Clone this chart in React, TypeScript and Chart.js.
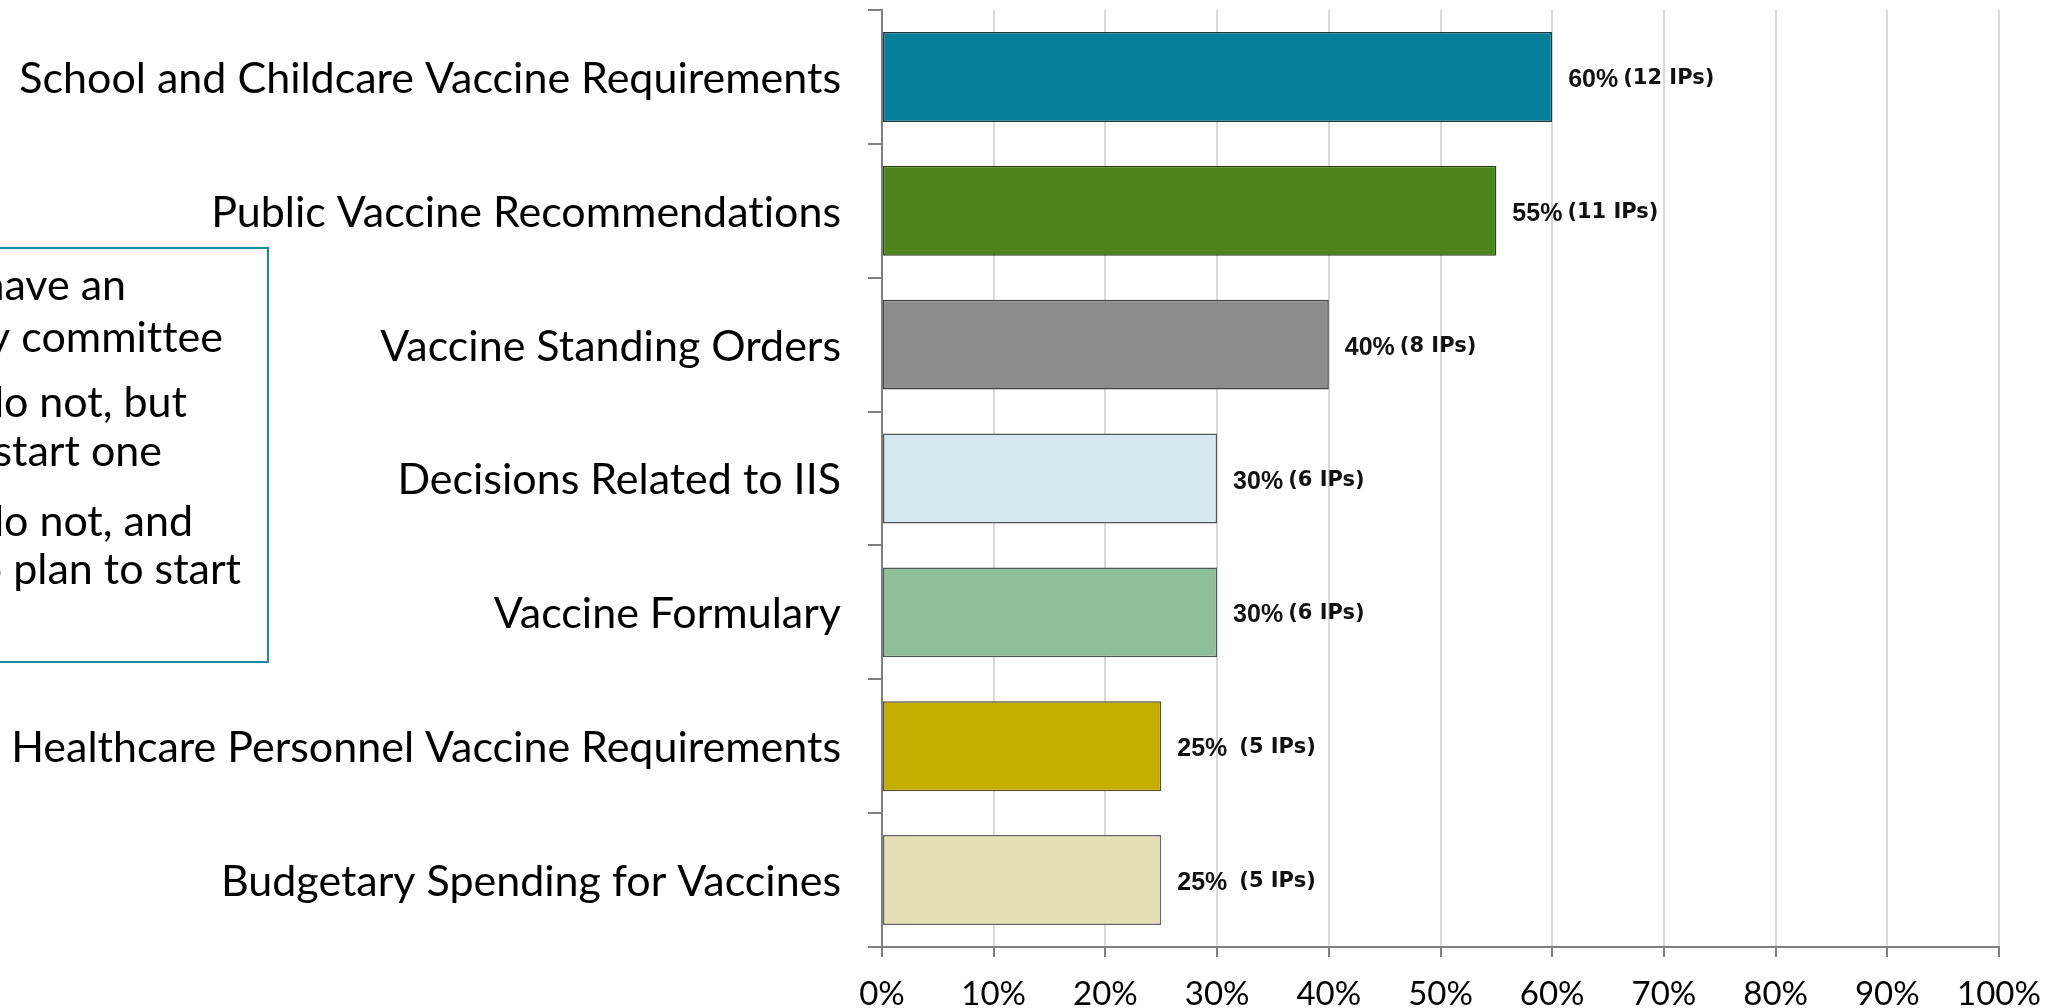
import { useEffect, useRef } from 'react';
import { Chart, registerables } from 'chart.js';

Chart.register(...registerables);

const categories = [
  'School and Childcare Vaccine Requirements',
  'Public Vaccine Recommendations',
  'Vaccine Standing Orders',
  'Decisions Related to IIS',
  'Vaccine Formulary',
  'Healthcare Personnel Vaccine Requirements',
  'Budgetary Spending for Vaccines',
];
const percentValues = [60, 55, 40, 30, 30, 25, 25];
const ipCounts = [12, 11, 8, 6, 6, 5, 5];
const xTickValues = [0, 10, 20, 30, 40, 50, 60, 70, 80, 90, 100];
const barColors = ['#04809a', '#4c831b', '#8c8c8c', '#d4e8ef', '#8fbf99', '#c4af00', '#e5dfb6'];
const barBorders = ['#1e3a40', '#2a4516', '#404040', '#555555', '#4a5a4d', '#555030', '#666666'];
const legendLines = [
  'We have an',
  'advisory committee',
  'We do not, but',
  'plan to start one',
  'We do not, and',
  'have no plan to start',
];

export default function App() {
  const ref = useRef<HTMLCanvasElement>(null);

  useEffect(() => {
    document.body.style.margin = '0';
    const canvas = ref.current;
    if (!canvas) return;

    const noLigPlugin = {
      id: 'noLig',
      beforeDraw(chart: any) {
        const ctx = chart.ctx;
        try {
          ctx.textRendering = 'optimizeSpeed';
        } catch (e) {}
      },
    };

    const labelPlugin = {
      id: 'barLabels',
      afterDatasetsDraw(chart: any) {
        const ctx = chart.ctx;
        const meta = chart.getDatasetMeta(0);
        ctx.save();
        ctx.fillStyle = '#111111';
        ctx.textAlign = 'left';
        ctx.textBaseline = 'alphabetic';
        meta.data.forEach((bar: any, i: number) => {
          const x = bar.x + 16;
          const y = bar.y;
          const pct = percentValues[i] + '%';
          ctx.font = 'bold 25px "Liberation Sans", Arial, sans-serif';
          ctx.fillText(pct, x, y + 10);
          const w = ctx.measureText(pct).width;
          const gap = percentValues[i] === 25 ? 12 : 5;
          ctx.font = 'bold 21px "DejaVu Sans", sans-serif';
          ctx.fillText('(' + ipCounts[i] + ' IPs)', x + w + gap, y + 7);
        });
        ctx.restore();
      },
    };

    const legendPlugin = {
      id: 'legendBox',
      afterDraw(chart: any) {
        const ctx = chart.ctx;
        ctx.save();
        ctx.strokeStyle = '#1b8a9c';
        ctx.lineWidth = 2;
        ctx.strokeRect(-10, 248, 278, 414);
        ctx.fillStyle = '#000000';
        ctx.font = '43px Lato';
        ctx.textAlign = 'right';
        ctx.textBaseline = 'alphabetic';
        const rights = [126, 223, 187, 162, 193, 241];
        const bases = [300, 352, 417, 466, 536, 584];
        legendLines.forEach((t, i) => ctx.fillText(t, rights[i], bases[i]));
        ctx.restore();
      },
    };

    const chart = new Chart(canvas, {
      type: 'bar',
      data: {
        labels: categories,
        datasets: [
          {
            data: percentValues,
            backgroundColor: barColors,
            borderColor: barBorders,
            borderWidth: 1.5,
            borderSkipped: false,
            barPercentage: 0.672,
            categoryPercentage: 1,
          },
        ],
      },
      options: {
        indexAxis: 'y',
        animation: false,
        responsive: false,
        devicePixelRatio: 1,
        layout: { padding: { top: 10, right: 68, left: 0, bottom: 0 } },
        plugins: {
          legend: { display: false },
          tooltip: { enabled: false },
        },
        scales: {
          x: {
            type: 'linear',
            min: 0,
            max: 100,
            afterBuildTicks: (s: any) => {
              s.ticks = xTickValues.map((v) => ({ value: v }));
            },
            afterFit: (s: any) => {
              s.height = 61;
              s.paddingLeft = 0;
              s.paddingRight = 0;
            },
            ticks: {
              callback: (v: any) => v + '%',
              font: { family: 'Lato', size: 33 },
              color: '#000000',
              padding: 18,
              maxRotation: 0,
              autoSkip: false,
            },
            grid: {
              color: '#d9d9d9',
              lineWidth: 2,
              tickColor: '#808080',
              tickLength: 10,
            },
            border: { color: '#808080', width: 2 },
          },
          y: {
            type: 'category',
            afterFit: (s: any) => {
              s.width = 882;
              s.paddingTop = 0;
              s.paddingBottom = 0;
            },
            ticks: {
              font: { family: 'Lato', size: 43 },
              color: '#000000',
              padding: 27,
              labelOffset: 2,
              autoSkip: false,
            },
            grid: {
              drawOnChartArea: false,
              color: '#808080',
              lineWidth: 2,
              tickLength: 14,
              offset: true,
            },
            border: { color: '#808080', width: 2 },
          },
        },
      },
      plugins: [noLigPlugin, labelPlugin, legendPlugin],
    } as any);

    return () => chart.destroy();
  }, []);

  return (
    <div style={{ position: 'absolute', left: 0, top: 0, width: 2067, height: 1008 }}>
      <canvas ref={ref} width={2067} height={1008} style={{ display: 'block', width: 2067, height: 1008 }} />
    </div>
  );
}
